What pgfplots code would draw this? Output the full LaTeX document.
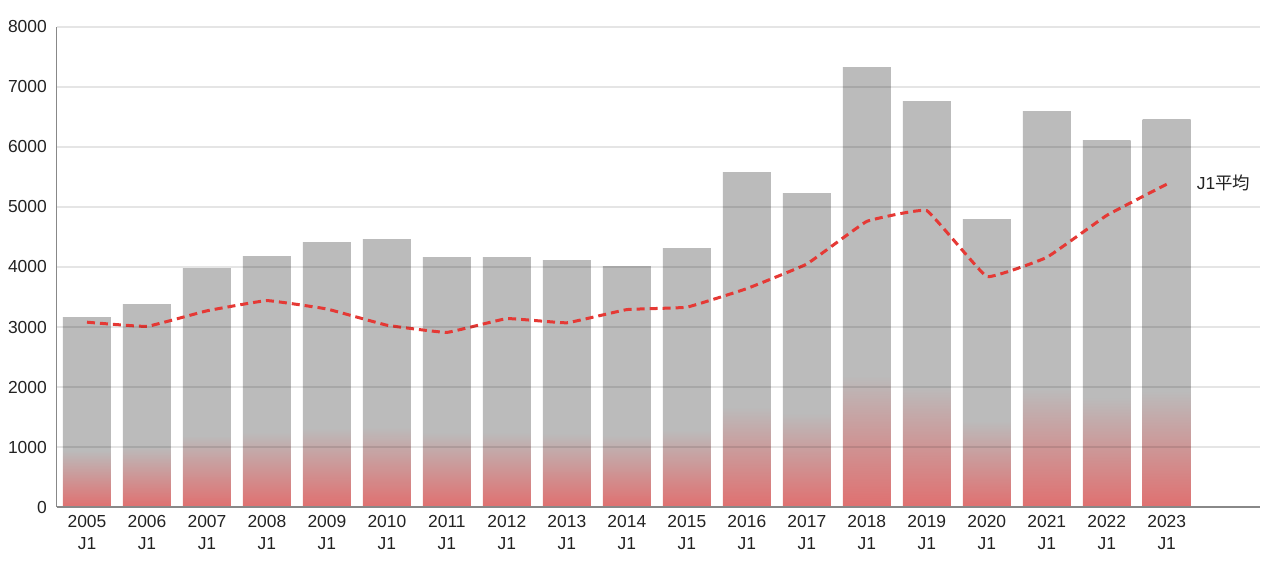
\documentclass[border=0pt]{standalone}
\usepackage{pgfplots}
\pgfplotsset{compat=1.18}
\usepackage{pgfplotstable}
\usepackage{fontspec}
\setmainfont{Liberation Sans}
\newfontfamily\cjk{Noto Sans CJK JP}
\definecolor{bargray}{HTML}{BBBBBB}
\definecolor{barred}{HTML}{E07070}
\definecolor{linered}{HTML}{E53935}
\definecolor{txt}{HTML}{222222}
\definecolor{axgray}{HTML}{888888}
\pgfdeclareverticalshading{barshade}{100bp}{color(0bp)=(barred); color(25bp)=(barred); color(40bp)=(bargray); color(100bp)=(bargray)}

\pgfplotstableread{
x avg
0 3080
1 3010
2 3270
3 3440
4 3300
5 3030
6 2910
7 3140
8 3070
9 3290
10 3330
11 3640
12 4050
13 4760
14 4940
15 3840
16 4160
17 4860
18 5380
}\avgdata

\begin{document}
\begin{tikzpicture}
\begin{axis}[
  scale only axis, width=1203bp, height=480bp,
  xmin=-0.5, xmax=19.555, ymin=0, ymax=8000,
  axis x line*=bottom, axis y line*=left,
  x axis line style={axgray, line width=1.5bp, -},
  y axis line style={axgray, line width=1bp, -},
  ytick={0,1000,...,8000},
  xtick={0,...,18},
  xticklabels={2005\\J1,2006\\J1,2007\\J1,2008\\J1,2009\\J1,2010\\J1,2011\\J1,2012\\J1,2013\\J1,2014\\J1,2015\\J1,2016\\J1,2017\\J1,2018\\J1,2019\\J1,2020\\J1,2021\\J1,2022\\J1,2023\\J1},
  major tick length=0pt,
  ymajorgrids,
  major grid style={black, opacity=0.1, line width=1.5bp},
  axis on top,
  tick label style={font=\fontsize{17.5}{21.5}\selectfont, text=txt},
  x tick label style={align=center, inner sep=0pt, yshift=-8.5bp},
  y tick label style={inner sep=0pt, xshift=-10bp},
  /pgf/number format/assume math mode=true,
  /pgf/number format/1000 sep={},
  every axis plot/.append style={},
  barstyle/.style={ybar, bar width=0.8, bar shift=0pt, draw=none, shading=barshade},
]
\addplot[barstyle] coordinates {(0,3150)};
\addplot[barstyle] coordinates {(1,3370)};
\addplot[barstyle] coordinates {(2,3970)};
\addplot[barstyle] coordinates {(3,4170)};
\addplot[barstyle] coordinates {(4,4400)};
\addplot[barstyle] coordinates {(5,4450)};
\addplot[barstyle] coordinates {(6,4150)};
\addplot[barstyle] coordinates {(7,4150)};
\addplot[barstyle] coordinates {(8,4110)};
\addplot[barstyle] coordinates {(9,4000)};
\addplot[barstyle] coordinates {(10,4300)};
\addplot[barstyle] coordinates {(11,5570)};
\addplot[barstyle] coordinates {(12,5220)};
\addplot[barstyle] coordinates {(13,7320)};
\addplot[barstyle] coordinates {(14,6750)};
\addplot[barstyle] coordinates {(15,4790)};
\addplot[barstyle] coordinates {(16,6590)};
\addplot[barstyle] coordinates {(17,6100)};
\addplot[barstyle] coordinates {(18,6450)};
\addplot[linered, line width=3bp, dash pattern=on 8bp off 5bp, smooth, tension=0.15, mark=none] table[x=x,y=avg]{\avgdata};
\node[anchor=west, inner sep=0pt, xshift=30bp, font=\fontsize{17.5}{21.5}\selectfont, text=txt] at (axis cs:18,5400) {J1{\cjk 平均}};
\end{axis}
\path (-57bp,-63bp) rectangle (1213bp,507bp);
\end{tikzpicture}
\end{document}
